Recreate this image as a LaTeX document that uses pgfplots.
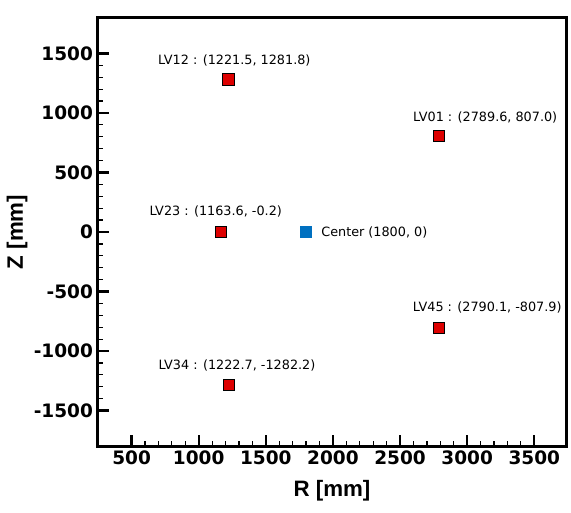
\documentclass[border=0pt]{standalone}
\usepackage{fontspec}
\usepackage{pgfplots}
\pgfplotsset{compat=1.18}
\setmainfont{DejaVu Sans}
\newfontfamily\dvs{DejaVu Sans}
\newfontfamily\lsans{Liberation Sans}
\definecolor{lvred}{RGB}{221,0,0}
\definecolor{cblue}{RGB}{0,112,192}
\begin{document}
\begin{tikzpicture}[x=1bp,y=1bp]
\begin{axis}[
  at={(97.5bp,66.7bp)}, anchor=south west,
  scale only axis, width=469bp, height=428.6bp,
  xmin=246, xmax=3740, ymin=-1800, ymax=1800,
  xtick={500,1000,...,3500}, ytick={-1500,-1000,...,1500},
  minor x tick num=4, minor y tick num=4,
  tick align=inside, xtick pos=bottom, ytick pos=left,
  major tick length=11bp, minor tick length=5.5bp,
  major tick style={line width=2.2bp, black},
  minor tick style={line width=1.2bp, black},
  axis line style={line width=2.4bp, black},
  scaled ticks=false,
  /pgf/number format/assume math mode=true,
  /pgf/number format/1000 sep={},
  ticklabel style={font=\dvs\bfseries\fontsize{18.5bp}{20bp}\selectfont},
  xticklabel style={yshift=-1bp},
  yticklabel style={xshift=-1bp},
  xlabel={R [mm]}, ylabel={Z [mm]},
  label style={font=\lsans\bfseries\fontsize{22.3bp}{24bp}\selectfont},
  xlabel style={at={(axis description cs:0.5,-0.1176)}, anchor=base},
  ylabel style={at={(axis description cs:-0.1716,0.5)}, anchor=center, rotate=0},
  clip=false,
]
\addplot[only marks, mark=square*, mark size=5.7bp,
  mark options={fill=lvred, draw=black, line width=0.8bp}]
  coordinates {(1221.5,1281.8) (2789.6,807.0) (1163.6,-0.2) (2790.1,-807.9) (1222.7,-1282.2)};
\addplot[only marks, mark=square*, mark size=5.5bp,
  mark options={fill=cblue, draw=cblue, line width=0.3bp}]
  coordinates {(1800,0)};
\begin{scope}[every node/.style={font=\dvs\fontsize{12.8bp}{15bp}\selectfont, anchor=west, inner sep=0pt}]
\node at (axis cs:697,1441) {LV12 : (1221.5, 1281.8)};
\node at (axis cs:2596,964) {LV01 : (2789.6, 807.0)};
\node at (axis cs:632,170) {LV23 : (1163.6, -0.2)};
\node at (axis cs:1912,0) {Center (1800, 0)};
\node at (axis cs:2594,-633) {LV45 : (2790.1, -807.9)};
\node at (axis cs:699,-1122) {LV34 : (1222.7, -1282.2)};
\end{scope}
\end{axis}
\pgfresetboundingbox
\path[use as bounding box] (0bp,0bp) rectangle (571bp,513bp);
\end{tikzpicture}
\end{document}
